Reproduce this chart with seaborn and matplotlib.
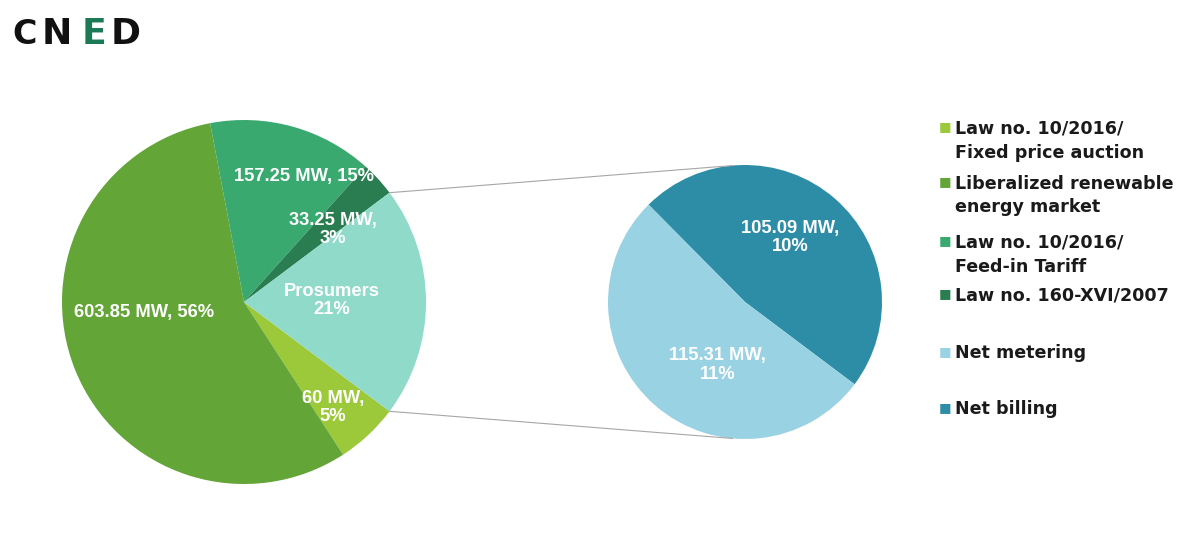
import matplotlib
matplotlib.use("Agg")
import matplotlib.pyplot as plt
import seaborn as sns
import numpy as np
from matplotlib.patches import ConnectionPatch

# ---- data ----
main_categories = ["Law no. 10/2016/\nFixed price auction",
                   "Liberalized renewable\nenergy market",
                   "Law no. 10/2016/\nFeed-in Tariff",
                   "Law no. 160-XVI/2007",
                   "Prosumers"]
main_values = [60.0, 603.85, 157.25, 33.25, 220.40]
main_labels = ["60 MW,\n5%", "603.85 MW, 56%", "157.25 MW, 15%", "33.25 MW,\n3%", "Prosumers\n21%"]

sub_categories = ["Net billing", "Net metering"]
sub_values = [105.09, 115.31]
sub_labels = ["105.09 MW,\n10%", "115.31 MW,\n11%"]

legend_order = ["Law no. 10/2016/\nFixed price auction",
                "Liberalized renewable\nenergy market",
                "Law no. 10/2016/\nFeed-in Tariff",
                "Law no. 160-XVI/2007",
                "Net metering",
                "Net billing"]

main_colors = ["#9bc93a", "#63a537", "#39a96f", "#2a7d50", "#8fdac9"]
sub_colors = ["#2e8da6", "#98d2e3"]

sns.set_theme(style="white")
plt.rcParams["font.family"] = ["Liberation Sans", "DejaVu Sans"]

W, H = 1200, 544
fig = plt.figure(figsize=(W / 100, H / 100), dpi=100)
fig.patch.set_facecolor("white")

def px_axes(cx, cy, r):
    return fig.add_axes([(cx - r) / W, (H - cy - r) / H, 2 * r / W, 2 * r / H])

ax1 = px_axes(244, 302, 182)
ax2 = px_axes(745, 302, 137)

pros_share = main_values[-1] / sum(main_values)
half_angle = 180 * pros_share

pal1 = sns.color_palette(main_colors)
pal2 = sns.color_palette(sub_colors)

w1, _ = ax1.pie(main_values, colors=pal1, startangle=-half_angle, counterclock=False,
                wedgeprops=dict(linewidth=0))
w2, _ = ax2.pie(sub_values, colors=pal2, startangle=-half_angle, counterclock=True,
                wedgeprops=dict(linewidth=0))
for ax in (ax1, ax2):
    ax.set_xlim(-1, 1)
    ax.set_ylim(-1, 1)
    ax.set_aspect("equal")
    ax.axis("off")

# data labels
main_pos = [(0.49, -0.58), (-0.55, -0.055), (0.33, 0.69), (0.49, 0.40), (0.48, 0.01)]
sub_pos = [(0.33, 0.47), (-0.20, -0.46)]
lab_kw = dict(color="white", fontsize=13.2, fontweight="bold", ha="center", va="center",
              linespacing=1.1)
for t, p in zip(main_labels, main_pos):
    ax1.text(p[0], p[1], t, **lab_kw)
for t, p in zip(sub_labels, sub_pos):
    ax2.text(p[0], p[1], t, **lab_kw)

# connector lines from Prosumers wedge edges to sub pie
pw = w1[-1]
for ang in (pw.theta1, pw.theta2):
    a = np.deg2rad(ang)
    xa, ya = np.cos(a), np.sin(a)
    ysub = 1.0 if ya > 0 else -1.0
    con = ConnectionPatch(xyA=(xa, ya), coordsA=ax1.transData,
                          xyB=(-0.09, ysub * 0.996), coordsB=ax2.transData,
                          color="#a6a6a6", lw=0.8)
    fig.add_artist(con)

# legend (manual placement)
color_map = dict(zip(main_categories, main_colors))
color_map.update(dict(zip(sub_categories, sub_colors)))
leg_baseline = [133, 188, 247, 300, 358, 414]
line_gap = 24.5
for lab, yb in zip(legend_order, leg_baseline):
    n_extra = lab.count("\n")
    fig.text(939 / W, 1 - (yb - 6) / H, "■", color=color_map[lab], fontsize=9.5,
             ha="left", va="center", family="DejaVu Sans")
    fig.text(955 / W, 1 - (yb + n_extra * line_gap) / H, lab, color="#1a1a1a",
             fontsize=12.6, fontweight="bold", ha="left", va="baseline",
             linespacing=1.4, family=["DejaVu Sans"])

# logo
logo = [("C", "#111111", 25, 24), ("N", "#111111", 57, 26), ("E", "#1b7a55", 94, 26),
        ("D", "#111111", 126, 26)]
for ch, c, xc, fs in logo:
    fig.text(xc / W, 1 - 34 / H, ch, color=c, fontsize=fs, fontweight="bold",
             ha="center", va="center", family="DejaVu Sans")

fig.savefig("out.png", dpi=100, facecolor="white")
